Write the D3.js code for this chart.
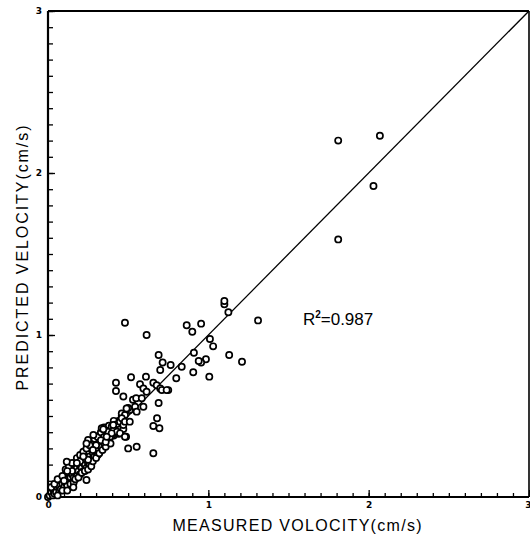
<!DOCTYPE html>
<html>
<head>
<meta charset="utf-8">
<script src="https://cdn.jsdelivr.net/npm/d3@7"></script>
<style>
  body { margin: 0; background: #fff; }
  svg { display: block; }
  .tick text { font-family: "DejaVu Sans", sans-serif; font-weight: bold; font-size: 9px; fill: #000; }
</style>
</head>
<body>
<div id="chart"></div>
<script>
// measured vs predicted velocity (cm/s)
const measured = [
  0.00, 0.01, 0.02, 0.03, 0.03, 0.04, 0.05, 0.05, 0.06, 0.07, 0.07, 0.08, 0.08, 0.09, 0.10, 0.10,
  0.11, 0.11, 0.12, 0.12, 0.13, 0.13, 0.14, 0.14, 0.15, 0.15, 0.16, 0.16, 0.17, 0.17, 0.18, 0.18,
  0.19, 0.19, 0.20, 0.20, 0.21, 0.21, 0.22, 0.22, 0.23, 0.23, 0.24, 0.24, 0.25, 0.25, 0.26, 0.26,
  0.27, 0.27, 0.28, 0.28, 0.29, 0.29, 0.30, 0.30, 0.31, 0.31, 0.32, 0.32, 0.33, 0.34, 0.35, 0.35,
  0.36, 0.37, 0.38, 0.39, 0.40, 0.41, 0.42, 0.43, 0.44, 0.45,
  0.02, 0.04, 0.06, 0.06, 0.09, 0.09, 0.11, 0.12, 0.13, 0.14, 0.15, 0.16, 0.17, 0.18, 0.19, 0.20,
  0.21, 0.22, 0.23, 0.24, 0.25, 0.26, 0.27, 0.28, 0.29, 0.30, 0.31, 0.32, 0.33, 0.34, 0.35, 0.36,
  0.37, 0.38, 0.39, 0.40, 0.41, 0.42, 0.43, 0.44, 0.46, 0.47, 0.35, 0.30, 0.25, 0.20, 0.15, 0.10,
  0.12, 0.18, 0.22, 0.28, 0.33, 0.38, 0.45, 0.40, 0.36,
  0.117, 0.24, 0.158, 0.335, 0.283, 0.25, 0.24, 0.376, 0.387, 0.397, 0.41, 0.43, 0.487,
  0.449, 0.47, 0.46, 0.48, 0.51, 0.50, 0.553, 0.657, 0.68, 0.657, 0.695,
  0.50, 0.53, 0.55, 0.595, 0.47, 0.574, 0.69, 0.595, 0.615, 0.657, 0.678, 0.70, 0.75, 0.71, 0.74,
  0.424, 0.424, 0.518, 0.611, 0.48, 0.615,
  0.69, 0.715, 0.70, 0.765, 0.834, 0.80,
  0.865, 0.90, 0.955, 1.01, 1.03, 0.91, 0.985, 0.955, 0.94, 0.906, 1.006,
  1.13, 1.21, 1.10, 1.10, 1.125, 1.31,
  1.81, 2.07, 2.03, 1.81,
  0.585, 0.543, 0.553, 0.49, 0.46, 0.48, 0.51, 0.407, 0.449, 0.48, 0.397, 0.366, 0.345
];
const predicted = [
  0.00, 0.01, 0.03, 0.01, 0.05, 0.02, 0.06, 0.03, 0.08, 0.04, 0.07, 0.10, 0.05, 0.08, 0.12, 0.06,
  0.09, 0.14, 0.11, 0.07, 0.15, 0.10, 0.12, 0.18, 0.14, 0.09, 0.17, 0.12, 0.20, 0.15, 0.13, 0.18,
  0.22, 0.16, 0.19, 0.14, 0.24, 0.18, 0.21, 0.16, 0.26, 0.20, 0.23, 0.18, 0.28, 0.21, 0.25, 0.20,
  0.30, 0.23, 0.27, 0.33, 0.25, 0.31, 0.28, 0.35, 0.30, 0.26, 0.34, 0.38, 0.31, 0.36, 0.33, 0.40,
  0.37, 0.42, 0.35, 0.40, 0.44, 0.38, 0.45, 0.41, 0.47, 0.43,
  0.06, 0.08, 0.11, 0.01, 0.04, 0.13, 0.17, 0.04, 0.19, 0.08, 0.21, 0.09, 0.11, 0.24, 0.12, 0.26,
  0.15, 0.28, 0.16, 0.30, 0.17, 0.32, 0.19, 0.22, 0.36, 0.24, 0.37, 0.27, 0.40, 0.29, 0.43, 0.31,
  0.35, 0.44, 0.33, 0.38, 0.47, 0.40, 0.45, 0.39, 0.50, 0.42, 0.37, 0.32, 0.23, 0.22, 0.16, 0.10,
  0.16, 0.21, 0.25, 0.29, 0.35, 0.41, 0.47, 0.42, 0.34,
  0.218, 0.105, 0.06, 0.424, 0.383, 0.352, 0.331, 0.403, 0.372, 0.434, 0.414, 0.403, 0.372,
  0.465, 0.444, 0.516, 0.506, 0.537, 0.30, 0.31, 0.27, 0.486, 0.438, 0.424,
  0.55, 0.60, 0.61, 0.557, 0.62, 0.696, 0.58, 0.67, 0.65, 0.705, 0.69, 0.67, 0.66, 0.66, 0.66,
  0.705, 0.654, 0.739, 0.743, 1.076, 1.00,
  0.877, 0.83, 0.784, 0.815, 0.804, 0.733,
  1.06, 1.02, 1.07, 0.975, 0.93, 0.89, 0.85, 0.83, 0.84, 0.77, 0.743,
  0.877, 0.835, 1.19, 1.21, 1.14, 1.09,
  2.20, 2.23, 1.92, 1.59,
  0.61, 0.557, 0.527, 0.547, 0.486, 0.465, 0.465, 0.444, 0.393, 0.372, 0.393, 0.372, 0.418
];
const majorTicks = [0, 1, 2, 3];
const r2Label = "0.987";

const W = 530, H = 537;
const plotLeft = 48, plotRight = 529, plotTop = 11, plotBottom = 497;

const svg = d3.select("#chart").append("svg")
    .attr("width", W)
    .attr("height", H);

const x = d3.scaleLinear().domain([0, 3]).range([plotLeft, plotRight]);
const y = d3.scaleLinear().domain([0, 3]).range([plotBottom, plotTop]);

// minor ticks every 0.1, inward
svg.append("g")
    .attr("transform", `translate(0,${plotBottom})`)
    .call(d3.axisBottom(x).ticks(30).tickSize(-4).tickFormat(""))
    .call(g => g.select(".domain").remove())
    .selectAll("line").attr("stroke-width", 1.3);
svg.append("g")
    .attr("transform", `translate(${plotLeft},0)`)
    .call(d3.axisLeft(y).ticks(30).tickSize(-5).tickFormat(""))
    .call(g => g.select(".domain").remove())
    .selectAll("line").attr("stroke-width", 1.3);

// major ticks with labels
const xMajor = svg.append("g")
    .attr("transform", `translate(0,${plotBottom})`)
    .call(d3.axisBottom(x).tickValues(majorTicks).tickSize(-7).tickPadding(5).tickFormat(d3.format("d")))
    .call(g => g.select(".domain").remove());
xMajor.selectAll("line").attr("stroke-width", 1.3);
xMajor.selectAll("text").filter(d => d === 3).attr("text-anchor", "end").attr("x", 2);

svg.append("g")
    .attr("transform", `translate(${plotLeft},0)`)
    .call(d3.axisLeft(y).tickValues(majorTicks).tickSize(-7).tickPadding(6).tickFormat(d3.format("d")))
    .call(g => g.select(".domain").remove())
    .selectAll("line").attr("stroke-width", 1.3);

// frame
svg.append("line").attr("x1", plotLeft).attr("x2", plotRight).attr("y1", plotBottom).attr("y2", plotBottom)
    .attr("stroke", "#000").attr("stroke-width", 2.2);
svg.append("line").attr("x1", plotLeft).attr("x2", plotLeft).attr("y1", plotTop).attr("y2", plotBottom)
    .attr("stroke", "#000").attr("stroke-width", 2.2);
svg.append("line").attr("x1", plotLeft).attr("x2", plotRight).attr("y1", plotTop).attr("y2", plotTop)
    .attr("stroke", "#000").attr("stroke-width", 2);
svg.append("line").attr("x1", plotRight).attr("x2", plotRight).attr("y1", plotTop).attr("y2", plotBottom)
    .attr("stroke", "#000").attr("stroke-width", 1.6);

// 1:1 line
svg.append("line")
    .attr("x1", x(0)).attr("y1", y(0))
    .attr("x2", x(3)).attr("y2", y(3))
    .attr("stroke", "#000").attr("stroke-width", 1.3);

// points
svg.append("g").selectAll("circle")
    .data(measured.map((m, i) => [m, predicted[i]]))
    .enter().append("circle")
    .attr("cx", d => x(d[0]))
    .attr("cy", d => y(d[1]))
    .attr("r", 3.1)
    .attr("fill", "#fff")
    .attr("stroke", "#000")
    .attr("stroke-width", 1.7);

// R^2 label
const r2 = svg.append("text")
    .attr("x", x(1.59))
    .attr("y", y(1.06))
    .style("font-family", "'Liberation Sans', Arial, sans-serif")
    .style("font-size", "17px");
r2.append("tspan").text("R");
r2.append("tspan").attr("dy", -7).style("font-size", "10px").style("font-weight", "bold").text("2");
r2.append("tspan").attr("dy", 7).text("=" + r2Label);

// axis titles
svg.append("text")
    .attr("x", 297)
    .attr("y", 531)
    .attr("text-anchor", "middle")
    .attr("textLength", 249)
    .attr("lengthAdjust", "spacing")
    .style("font-family", "'Liberation Sans', Arial, sans-serif")
    .style("font-size", "16px")
    .text("MEASURED VOLOCITY(cm/s)");

svg.append("text")
    .attr("transform", `translate(28,258) rotate(-90)`)
    .attr("text-anchor", "middle")
    .attr("textLength", 265)
    .attr("lengthAdjust", "spacing")
    .style("font-family", "'Liberation Sans', Arial, sans-serif")
    .style("font-size", "16px")
    .text("PREDICTED VELOCITY(cm/s)");
</script>
</body>
</html>
